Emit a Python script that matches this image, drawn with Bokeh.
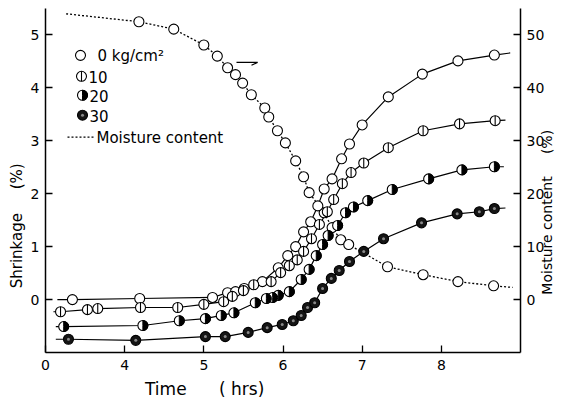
import math
from bokeh.plotting import figure
from bokeh.models import Range1d, LinearAxis, FixedTicker, Label
from bokeh.embed import file_html
from bokeh.resources import INLINE

# Time (hrs) on the displayed axis; the axis is broken: tick "0" sits at position 3
time_ticks = [3, 4, 5, 6, 7, 8]
time_tick_labels = ["0", "4", "5", "6", "7", "8"]

# 0 kg/cm2 shrinkage (%)
t_0 = [3.34, 4.19, 5.11, 5.30, 5.40, 5.51, 5.74, 5.94, 6.06, 6.16, 6.26, 6.35, 6.44,
       6.52, 6.62, 6.74, 6.84, 7.00, 7.33, 7.76, 8.21, 8.67]
s_0 = [0.00, 0.02, 0.04, 0.13, 0.15, 0.21, 0.34, 0.60, 0.83, 1.00, 1.28, 1.47, 1.77,
       2.09, 2.28, 2.66, 2.94, 3.30, 3.83, 4.26, 4.51, 4.62]
ends_t_0 = [3.15, 8.87]
ends_s_0 = [0.00, 4.66]

# 10 kg/cm2
t_10 = [3.19, 3.53, 3.66, 4.20, 4.67, 5.00, 5.25, 5.36, 5.50, 5.63, 5.85, 5.97, 6.08,
        6.18, 6.26, 6.36, 6.46, 6.56, 6.64, 6.75, 6.86, 7.02, 7.33, 7.77, 8.23, 8.68]
s_10 = [-0.23, -0.19, -0.17, -0.15, -0.15, -0.09, -0.04, 0.06, 0.17, 0.28, 0.34, 0.51,
        0.64, 0.75, 0.91, 1.15, 1.42, 1.66, 1.89, 2.19, 2.40, 2.58, 2.87, 3.19, 3.32, 3.38]
ends_t_10 = [3.10, 8.81]
ends_s_10 = [-0.23, 3.39]

# 20 kg/cm2
t_20 = [3.23, 4.23, 4.69, 5.02, 5.22, 5.38, 5.65, 5.79, 5.87, 5.94, 6.08, 6.23, 6.33,
        6.42, 6.50, 6.57, 6.69, 6.79, 6.89, 7.07, 7.38, 7.84, 8.26, 8.67]
s_20 = [-0.51, -0.49, -0.40, -0.36, -0.30, -0.25, -0.06, 0.02, 0.04, 0.08, 0.15, 0.38,
        0.57, 0.83, 1.04, 1.21, 1.40, 1.64, 1.75, 1.87, 2.08, 2.28, 2.45, 2.51]
ends_t_20 = [3.13, 8.79]
ends_s_20 = [-0.51, 2.51]

# 30 kg/cm2
t_30 = [3.29, 4.14, 5.02, 5.27, 5.56, 5.80, 5.99, 6.13, 6.23, 6.31, 6.40, 6.50, 6.61,
        6.71, 6.84, 7.02, 7.27, 7.75, 8.20, 8.48, 8.67]
s_30 = [-0.75, -0.77, -0.70, -0.70, -0.62, -0.53, -0.47, -0.40, -0.30, -0.15, -0.06,
        0.21, 0.40, 0.55, 0.72, 0.91, 1.15, 1.45, 1.62, 1.66, 1.72]
ends_t_30 = [3.13, 8.81]
ends_s_30 = [-0.75, 1.73]

# Moisture content (%)
t_m = [4.18, 4.62, 5.00, 5.17, 5.30, 5.40, 5.49, 5.60, 5.77, 5.82, 5.93, 6.03, 6.16,
       6.26, 6.33, 6.52, 6.62, 6.73, 6.83, 7.32, 7.77, 8.21, 8.66]
m_m = [52.5, 51.1, 48.1, 46.0, 43.8, 42.5, 40.9, 38.7, 36.2, 34.5, 31.9, 29.6, 26.2,
       23.2, 20.2, 16.4, 13.6, 11.3, 10.4, 6.2, 4.7, 3.4, 2.6]
ends_t_m = [3.26, 8.90]
ends_m_m = [54.0, 2.3]

FONT = "DejaVu Sans"
NB = "\u00a0"
W, H = 566, 401
L, R, T, B = 45, 46, 8, 48
X0, X1 = 3.0, 9.0
Y0, Y1 = -1.0, 5.5

p = figure(width=W, height=H, output_backend="svg", toolbar_location=None,
           x_range=Range1d(X0, X1), y_range=Range1d(Y0, Y1),
           min_border_left=L, min_border_right=R, min_border_top=T, min_border_bottom=B)
p.extra_y_ranges = {"moist": Range1d(Y0 * 10, Y1 * 10)}
p.outline_line_color = None
p.xgrid.visible = False
p.ygrid.visible = False
p.background_fill_color = "white"
p.border_fill_color = "white"

fw = W - L - R
fh = H - T - B
def tx(px):
    return X0 + (px - L) * (X1 - X0) / fw
def sy(py):
    return Y0 + (H - B - py) * (Y1 - Y0) / fh

def style_axis(ax, label_size):
    ax.axis_line_width = 1.5
    ax.axis_line_color = "black"
    ax.major_tick_in = 7
    ax.major_tick_out = 0
    ax.major_tick_line_width = 1.3
    ax.minor_tick_line_color = None
    ax.major_label_text_font = FONT
    ax.major_label_text_font_size = "14px"
    ax.major_label_text_color = "black"
    ax.axis_label_text_font = FONT
    ax.axis_label_text_font_size = label_size
    ax.axis_label_text_font_style = "normal"
    ax.axis_label_text_color = "black"

xa = p.xaxis[0]
xa.ticker = FixedTicker(ticks=time_ticks)
xa.major_label_overrides = {k: v for k, v in zip(time_ticks, time_tick_labels)}
xa.major_label_standoff = 7
style_axis(xa, "17px")
xa.axis_label = "Time" + NB * 6 + "( hrs)" + NB * 29
xa.axis_label_standoff = 6

ya = p.yaxis[0]
ya.ticker = FixedTicker(ticks=[0, 1, 2, 3, 4, 5])
ya.major_label_standoff = 6
style_axis(ya, "15px")
ya.axis_label = "Shrinkage" + NB * 5 + "(%)" + NB * 19
ya.axis_label_standoff = 2

ra = LinearAxis(y_range_name="moist", ticker=FixedTicker(ticks=[0, 10, 20, 30, 40, 50]))
ra.major_label_standoff = 6
style_axis(ra, "14px")
ra.axis_label = NB * 13 + "Moisture content" + NB * 5 + "(%)"
ra.axis_label_orientation = math.pi / 2
ra.axis_label_align = "start"
ra.axis_label_standoff = 0
p.add_layout(ra, "right")

# lines
series = [(t_0, s_0, ends_t_0, ends_s_0), (t_10, s_10, ends_t_10, ends_s_10),
          (t_20, s_20, ends_t_20, ends_s_20), (t_30, s_30, ends_t_30, ends_s_30)]
for tt, ss, et, es in series:
    p.line([et[0]] + tt + [et[1]], [es[0]] + ss + [es[1]], line_color="black", line_width=1.2)
p.line([ends_t_m[0]] + t_m + [ends_t_m[1]], [ends_m_m[0]] + m_m + [ends_m_m[1]],
       y_range_name="moist", line_color="black", line_width=1.3, line_dash="2 2")

MS = 10
RAD = 5

def open_marker(x, y, **kw):
    p.scatter(x, y, marker="circle", size=MS, fill_color="white", line_color="black",
              line_width=1.1, **kw)

def ten_marker(x, y):
    p.scatter(x, y, marker="circle", size=MS, fill_color="white", line_color="black", line_width=1.1)
    p.scatter(x, y, marker="dash", size=MS, angle=math.pi / 2, line_color="black", line_width=1.1)

def twenty_marker(x, y):
    p.scatter(x, y, marker="circle", size=MS, fill_color="white", line_color="black", line_width=1.1)
    p.wedge(x, y, radius=RAD, radius_units="screen", start_angle=-math.pi / 2,
            end_angle=math.pi / 2, fill_color="black", line_color="black")

def thirty_marker(x, y):
    p.scatter(x, y, marker="circle", size=MS, fill_color="#151515", line_color="black", line_width=1.1)
    p.scatter(x, y, marker="circle", size=3, fill_color="#8a8a8a", line_color=None)

open_marker(t_m, m_m, y_range_name="moist")
open_marker(t_0, s_0)
ten_marker(t_10, s_10)
twenty_marker(t_20, s_20)
thirty_marker(t_30, s_30)

# legend (manual)
open_marker([tx(80)], [sy(55)])
ten_marker([tx(81)], [sy(76)])
twenty_marker([tx(82)], [sy(95)])
thirty_marker([tx(82)], [sy(115)])
p.line([tx(67), tx(95)], [sy(137), sy(137)], line_color="black", line_width=1.3, line_dash="2 2")

def lab(px, py, text, size="15px", angle=0.0, align="left", baseline="middle"):
    p.add_layout(Label(x=tx(px), y=sy(py), text=text, text_font=FONT, text_font_size=size,
                       text_color="black", angle=angle, text_align=align,
                       text_baseline=baseline))

lab(97, 56, "0 kg/cm\u00b2")
lab(88, 77, "10")
lab(89, 96, "20")
lab(89, 116, "30")
lab(96, 138, "Moisture content")

# arrow pointing to the right axis
p.segment([tx(236)], [sy(62)], [tx(257)], [sy(62)], line_color="black", line_width=1.2)
p.segment([tx(257)], [sy(62)], [tx(251)], [sy(65)], line_color="black", line_width=1.2)

open("out.html", "w").write(file_html(p, INLINE))
